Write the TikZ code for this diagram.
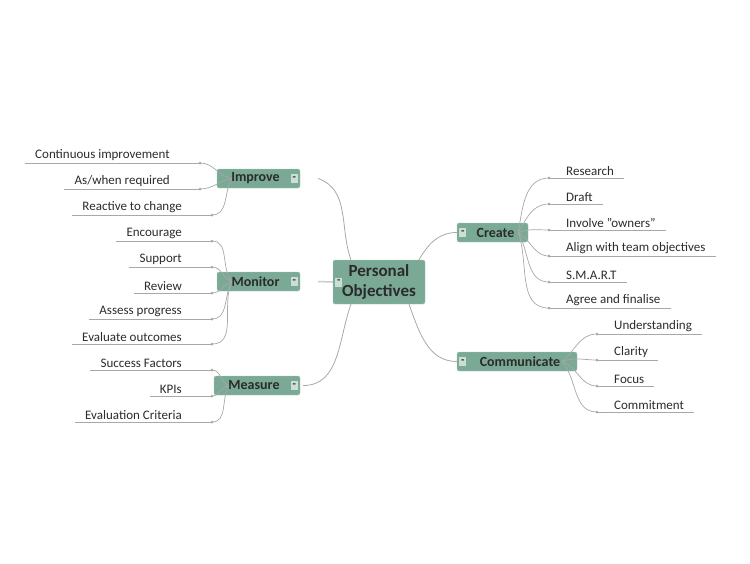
\documentclass[tikz,border=0pt]{standalone}
\usepackage{fontspec}
\setmainfont{Carlito}
\usetikzlibrary{positioning}
\definecolor{topicfill}{HTML}{7AA996}
\definecolor{topicedge}{HTML}{A9CABD}
\definecolor{twiggray}{HTML}{A8A8A8}
\definecolor{inktext}{HTML}{2B2B2B}

\begin{document}
\begin{tikzpicture}[x=1pt, y=-1pt, font=\fontsize{13}{15}\selectfont, text=inktext]
    \tikzset{
        root/.style = {rectangle, rounded corners=2pt, draw=topicedge, fill=topicfill, text width=88pt, align=center, font=\fontsize{17}{20}\selectfont\bfseries, minimum height=44pt, inner sep=2pt},
        topic/.style = {rectangle, rounded corners=2pt, draw=topicedge, fill=topicfill, font=\fontsize{14}{16}\selectfont\bfseries, minimum height=19pt, inner sep=2pt},
        minus/.style = {fill=topicedge!60, inner sep=1pt, font=\fontsize{11}{11}\selectfont\bfseries, minimum width=7pt, minimum height=9pt},
        leafR/.style = {anchor=south west, inner xsep=0pt, inner ysep=2pt, execute at begin node=\hspace*{17pt}, execute at end node=\hspace*{10pt}},
        leafL/.style = {anchor=south east, inner xsep=0pt, inner ysep=2pt, execute at begin node=\hspace*{10pt}, execute at end node=\hspace*{30pt}},
        twig/.style = {draw=twiggray, line width=0.7pt},
        branch/.style = {draw=twiggray, line width=0.8pt}
    }
    \useasboundingbox (0,0) rectangle (750,563);

    % central topic and main branches
    \node [root] (po) at (379,282) {Personal\\Objectives};
    \node [minus] at ([xshift=6pt]po.west) {-};
    \node [topic, minimum width=83pt, align=left] (im) at (258.5,178.5) {Improve\hspace*{6pt}};
    \node [topic, minimum width=83pt] (mo) at (258.5,281.5) {Monitor\hspace*{6pt}};
    \node [topic, minimum width=86pt] (me) at (257,385.5) {Measure\hspace*{6pt}};
    \node [topic, minimum width=71pt] (cr) at (492.5,232.5) {\hspace*{6pt}Create};
    \node [topic, minimum width=120pt] (co) at (517,361.5) {\hspace*{6pt}Communicate};
    \foreach \t in {im, mo, me}
        \node [minus] at ([xshift=-6pt]\t.east) {-};
    \foreach \t in {cr, co}
        \node [minus] at ([xshift=6pt]\t.west) {-};

    \draw [branch] ([xshift=-28pt]po.north) to [out=110, in=-20] ([xshift=18pt]im.east);
    \draw [draw=twiggray!60, line width=1.5pt] (po.west) -- ([xshift=18pt]mo.east);
    \draw [branch] ([xshift=-28pt]po.south) to [out=-110, in=0] ([xshift=3pt]me.east);
    \draw [branch] ([xshift=40pt]po.north) to [out=60, in=180] (cr.west);
    \draw [branch] ([xshift=30pt]po.south) to [out=-70, in=180] (co.west);

    % Create leaves
    \foreach \n/\y/\txt/\o in {c1/178/Research/80, c2/204/Draft/60, c3/230/{Involve "owners"}/20,
                               c4/256/Align with team objectives/-30, c5/282/S.M.A.R.T/-60, c6/308/Agree and finalise/-70} {
        \node [leafR] (\n) at (549,\y) {\txt};
        \draw [twig] (\n.south west) -- (\n.south east);
        \fill [twiggray] (\n.south west) circle (1.5pt);
        \draw [twig] ([xshift=-10pt]cr.east) to [out=\o, in=180] (\n.south west);
    }

    % Communicate leaves
    \foreach \n/\y/\txt/\o in {u1/334/Understanding/40, u2/360/Clarity/20, u3/386/Focus/-20, u4/412/Commitment/-50} {
        \node [leafR] (\n) at (597,\y) {\txt};
        \draw [twig] (\n.south west) -- (\n.south east);
        \fill [twiggray] (\n.south west) circle (1.5pt);
        \draw [twig] ([xshift=-15pt]co.east) to [out=\o, in=180] (\n.south west);
    }

    % Improve leaves
    \foreach \n/\y/\txt/\x/\o in {i1/163/Continuous improvement/200/170, i2/189/As{/}when required/200/190, i3/215/Reactive to change/212/-120} {
        \node [leafL] (\n) at (\x,\y) {\txt};
        \draw [twig] (\n.south west) -- (\n.south east);
        \fill [twiggray] (\n.south east) circle (1.5pt);
        \draw [twig] ([xshift=15pt]im.west) to [out=\o, in=0] (\n.south east);
    }

    % Monitor leaves
    \foreach \n/\y/\txt/\o in {m1/241/Encourage/130, m2/267/Support/160, m3/293/Review/200,
                               m4/319/Assess progress/-120, m5/344/Evaluate outcomes/-115} {
        \node [leafL] (\n) at (212,\y) {\txt};
        \draw [twig] (\n.south west) -- (\n.south east);
        \fill [twiggray] (\n.south east) circle (1.5pt);
        \draw [twig] ([xshift=15pt]mo.west) to [out=\o, in=0] (\n.south east);
    }

    % Measure leaves
    \foreach \n/\y/\txt/\o in {s1/370/Success Factors/160, s2/396/KPIs/190, s3/422/Evaluation Criteria/-120} {
        \node [leafL] (\n) at (212,\y) {\txt};
        \draw [twig] (\n.south west) -- (\n.south east);
        \fill [twiggray] (\n.south east) circle (1.5pt);
        \draw [twig] ([xshift=15pt]me.west) to [out=\o, in=0] (\n.south east);
    }
\end{tikzpicture}
\end{document}
